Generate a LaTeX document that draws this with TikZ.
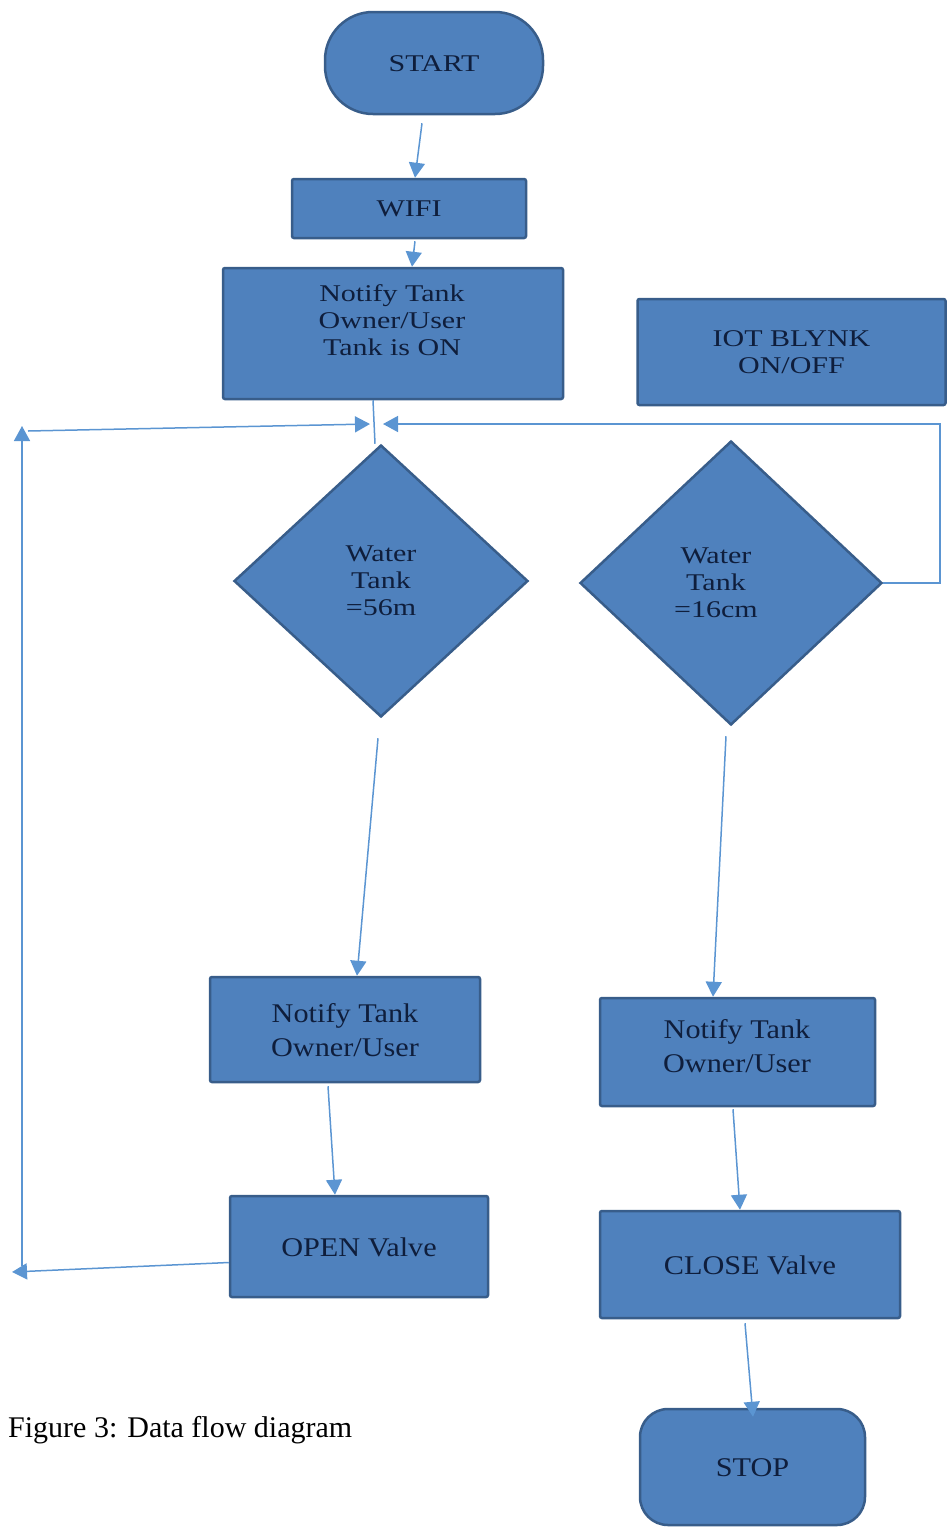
\documentclass[tikz,border=0pt]{standalone}
\usepackage{fontspec}
\usepackage{graphicx}
\setmainfont{Liberation Serif}
\usetikzlibrary{shapes.geometric,arrows.meta}
\definecolor{boxfill}{HTML}{4F81BD}
\definecolor{boxline}{HTML}{385D8A}
\definecolor{txt}{HTML}{0F1E3C}
\definecolor{arr}{HTML}{5B95D2}
\newcommand{\upt}[1]{\raisebox{-3pt}[\height][\depth]{\scalebox{1.25}[1]{\begin{tabular}{@{}c@{}}#1\end{tabular}}}}
\newcommand{\lot}[1]{\raisebox{-3pt}[\height][\depth]{\scalebox{1.12}[1]{\begin{tabular}{@{}c@{}}#1\end{tabular}}}}
\tikzset{
  box/.style={rectangle, draw=boxline, line width=2.5pt, fill=boxfill, rounded corners=2pt, inner sep=0pt, text=txt},
  dia/.style={diamond, draw=boxline, line width=2.5pt, fill=boxfill, inner sep=0pt, aspect=1},
  uptext/.style={font=\fontsize{24}{27}\selectfont, text=txt},
  lotext/.style={font=\fontsize{27}{34}\selectfont, text=txt},
  flow/.style={draw=arr, line width=1.5pt, -{Triangle[width=16pt,length=15pt]}},
  plain/.style={draw=arr, line width=1.5pt},
}
\begin{document}
\begin{tikzpicture}[x=1pt,y=-1pt]
\useasboundingbox (0,0) rectangle (948,1532);
% nodes
\node[box, rounded corners=48pt, minimum width=218pt, minimum height=102pt, uptext] (start) at (434,63) {\upt{START}};
\node[box, minimum width=234pt, minimum height=59pt, uptext] (wifi) at (409,208.5) {\upt{WIFI}};
\node[box, minimum width=340pt, minimum height=131pt] (notify1) at (393,333.5) {};
\node[uptext, inner sep=0pt] (notify1t) at (392,320) {\upt{Notify Tank\\Owner/User\\Tank is ON}};
\node[box, minimum width=308pt, minimum height=106pt, uptext] (iot) at (791.5,352) {\upt{IOT BLYNK\\ON/OFF}};
\node[dia, minimum width=294pt, minimum height=272pt] (d1) at (381,581) {};
\node[uptext, inner sep=0pt] (d1t) at (381,580) {\upt{Water\\Tank\\=56m}};
\node[dia, minimum width=302pt, minimum height=284pt] (d2) at (731,583) {};
\node[uptext, inner sep=0pt] (d2t) at (716,582) {\upt{Water\\Tank\\=16cm}};
\node[box, minimum width=270pt, minimum height=105pt, lotext] (n2) at (345,1029.5) {\lot{Notify Tank\\Owner/User}};
\node[box, minimum width=258pt, minimum height=101pt, lotext] (open) at (359,1246.5) {\lot{OPEN Valve}};
\node[box, minimum width=275pt, minimum height=108pt] (n3) at (737.5,1052) {};
\node[lotext, inner sep=0pt] (n3t) at (737,1045.5) {\lot{Notify Tank\\Owner/User}};
\node[box, minimum width=300pt, minimum height=107pt, lotext] (close) at (750,1264.5) {\lot{CLOSE Valve}};
\node[box, rounded corners=28pt, minimum width=225pt, minimum height=116pt, lotext] (stop) at (752.5,1467) {\lot{STOP}};
\node[anchor=base west, inner sep=0pt, font=\fontsize{30}{36}\selectfont, text=black] (cap) at (8,1437) {Figure 3: Data flow diagram};
% coordinates
\coordinate (mergeR) at (383,424);
\coordinate (mergeL) at (370,424);
\coordinate (botL) at (12,1272);
\coordinate (leftB) at (22,1266);
\coordinate (leftT) at (22,426);
\coordinate (topL) at (28,431);
% connectors
\draw[flow] ([xshift=-12pt,yshift=-8pt]start.south) -- ([xshift=6pt]wifi.north);
\draw[flow] ([xshift=6pt,yshift=-2pt]wifi.south) -- ([xshift=19pt]notify1.north);
\draw[plain] ([xshift=-20pt]notify1.south) -- ([xshift=-6pt]d1.north);
\draw[flow] (d2.east) -- (940,583) |- (mergeR);
\draw[flow] ([yshift=-16pt]open.west) -- (botL);
\draw[flow] (leftB) -- (leftT);
\draw[flow] (topL) -- (mergeL);
\draw[flow] ([xshift=-3pt,yshift=-20pt]d1.south) -- ([xshift=12pt]n2.north);
\draw[flow] ([xshift=-17pt,yshift=-3pt]n2.south) -- ([xshift=-24pt]open.north);
\draw[flow] ([xshift=-5pt,yshift=-10pt]d2.south) -- ([xshift=-24.5pt]n3.north);
\draw[flow] ([xshift=-4.5pt,yshift=-2pt]n3.south) -- ([xshift=-10pt]close.north);
\draw[flow] ([xshift=-5pt,yshift=-4pt]close.south) -- ([xshift=0.5pt,yshift=-9pt]stop.north);
\end{tikzpicture}
\end{document}
